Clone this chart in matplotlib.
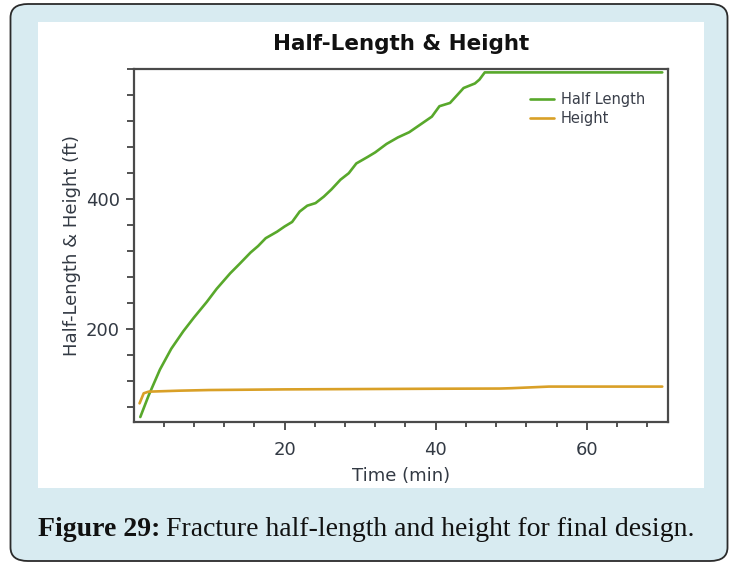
import matplotlib
matplotlib.use("Agg")
import matplotlib.pyplot as plt
from matplotlib.patches import FancyBboxPatch, Rectangle
import numpy as np

# ---- data ----
half_t = [0.9, 2.0, 3.5, 5.0, 6.6, 8.0, 9.7, 11.0, 12.8, 14.0, 15.5, 16.5, 17.5,
          19.0, 20.0, 21.0, 22.0, 23.0, 24.1, 25.2, 26.2, 27.4, 28.5, 29.5, 31.0,
          32.0, 33.5, 35.0, 36.5, 38.0, 39.5, 40.5, 41.9, 43.0, 43.7, 45.2, 45.8,
          46.5, 50.0, 60.0, 70.0]
half_len = [65, 98, 138, 170, 197, 218, 242, 262, 286, 300, 318, 328, 340,
            350, 358, 365, 381, 390, 394, 404, 415, 430, 440, 455, 465,
            472, 485, 495, 503, 515, 527, 543, 548, 562, 571, 578, 584,
            595, 595, 595, 595]
height_t = [0.8, 1.35, 2.0, 6.0, 10.0, 20.0, 30.0, 40.0, 48.5, 50.0, 55.0, 60.0, 70.0]
height = [86, 101.5, 104, 105.5, 106.5, 107.5, 108.0, 108.5, 108.8, 109.3, 111.8, 111.8, 111.8]

x_major = [20, 40, 60]
y_major = [200, 400]
series_names = ["Half Length", "Height"]

W, H = 730, 564
fig = plt.figure(figsize=(W / 100, H / 100), dpi=100)
fig.patch.set_facecolor("white")

def fx(px):
    return px / W

def fy(py):
    return 1 - py / H

# outer rounded light-blue box
outer = FancyBboxPatch((fx(10.5), fy(561)), fx(717), fy(4) - fy(561),
                       boxstyle="round,pad=0,rounding_size=0.024",
                       transform=fig.transFigure, facecolor="#d8ebf1",
                       edgecolor="#2b2b2b", linewidth=1.3, zorder=0)
fig.patches.append(outer)

# white panel
panel = Rectangle((fx(38), fy(488)), fx(704) - fx(38), fy(22) - fy(488),
                  transform=fig.transFigure, facecolor="white", edgecolor="none", zorder=1)
fig.patches.append(panel)

# axes
ax = fig.add_axes([fx(133.5), fy(421.7), fx(668.3) - fx(133.5), fy(68.5) - fy(421.7)])
ax.set_facecolor("white")
ax.set_zorder(2)

green = "#58a82b"
orange = "#d9a027"
ax.plot(half_t, half_len, color=green, lw=1.9, label=series_names[0], solid_capstyle="round")
ax.plot(height_t, height, color=orange, lw=1.9, label=series_names[1], solid_capstyle="round")

ax.set_xlim(0, 70.8)
ax.set_ylim(57.8, 601)

ax.set_xticks(x_major)
ax.set_xticks([v for v in range(4, 71, 4) if v not in x_major], minor=True)
ax.set_yticks(y_major)
ax.set_yticks([v for v in range(80, 601, 40) if v not in y_major], minor=True)

tick_col = "#333a44"
ax.tick_params(axis="both", which="major", direction="out", length=6, width=1.3,
               colors="#444444", labelcolor=tick_col, labelsize=13, pad=4)
ax.tick_params(axis="x", which="minor", direction="out", length=3.5, width=1.3, colors="#444444")
ax.tick_params(axis="y", which="minor", direction="out", length=5, width=1.3, colors="#444444")
ax.tick_params(axis="x", which="major", pad=8)

for s in ax.spines.values():
    s.set_color("#4a4a4a")
    s.set_linewidth(1.6)

ax.set_xlabel("Time (min)", fontsize=13, color=tick_col, labelpad=6)
ax.set_ylabel("Half-Length & Height (ft)", fontsize=13, color=tick_col, labelpad=3)

leg = ax.legend(loc="upper right", bbox_to_anchor=(0.973, 0.958), frameon=False,
                fontsize=10.5, handlelength=1.6, handletextpad=0.5, labelspacing=0.3,
                borderaxespad=0.2)
for t in leg.get_texts():
    t.set_color("#3a3f4a")

fig.text(fx(401), fy(44), "Half-Length & Height", ha="center", va="center",
         fontsize=15.5, fontweight="bold", color="#111111", zorder=3)

# caption
r = fig.canvas.get_renderer()
cap_y = fy(536)
t1 = fig.text(fx(38), cap_y, "Figure 29:", fontsize=20, fontweight="bold",
              family="Liberation Serif", color="#111111", va="baseline", ha="left")
bb1 = t1.get_window_extent(renderer=r)
t2 = fig.text(bb1.x1 / W + fx(6), cap_y, "Fracture half-length and height for final design.",
              fontsize=20, family="Liberation Serif", color="#111111", va="baseline", ha="left")

fig.savefig("out.png", dpi=100, facecolor=fig.get_facecolor())
